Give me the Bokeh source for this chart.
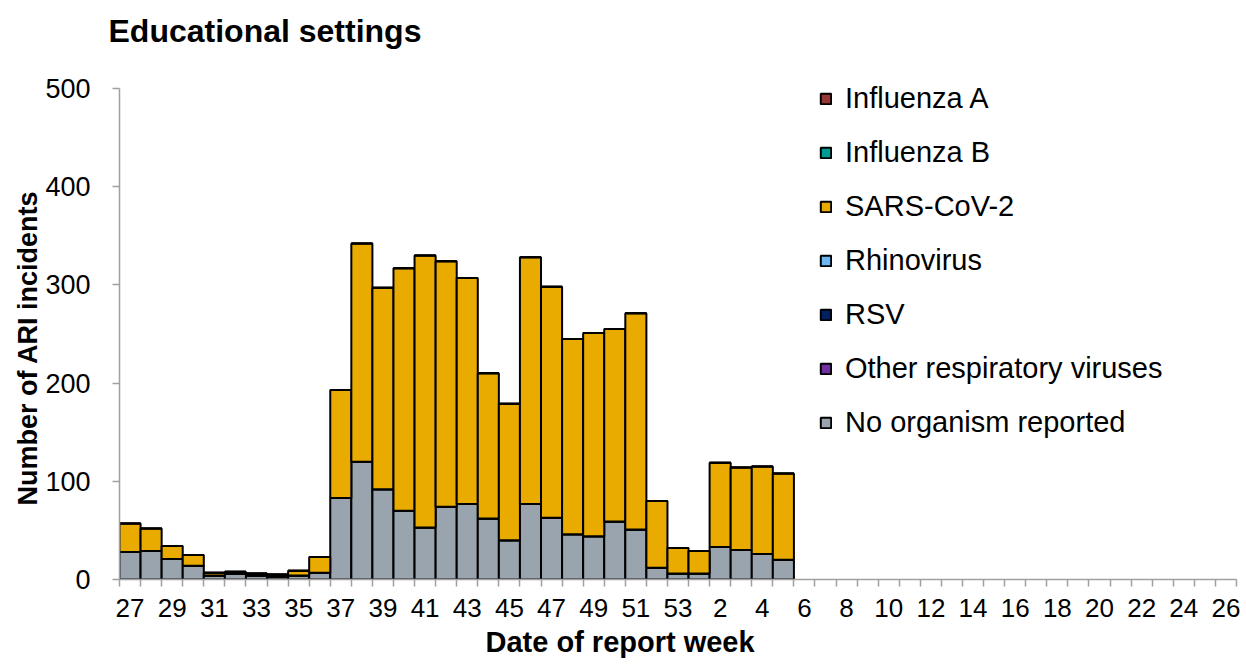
from bokeh.plotting import figure
from bokeh.models import Range1d, FixedTicker, Legend, LegendItem, Title, ColumnDataSource
from bokeh.embed import file_html
from bokeh.resources import INLINE

# All report weeks on the axis (week 27 of one year to week 26 of the next)
week_labels = ["27", "28", "29", "30", "31", "32", "33", "34", "35", "36", "37", "38", "39", "40",
               "41", "42", "43", "44", "45", "46", "47", "48", "49", "50", "51", "52", "53",
               "1", "2", "3", "4", "5", "6", "7", "8", "9", "10", "11", "12", "13", "14", "15",
               "16", "17", "18", "19", "20", "21", "22", "23", "24", "25", "26"]

# Weeks with reported incidents
data_weeks = ["27", "28", "29", "30", "31", "32", "33", "34", "35", "36", "37", "38", "39", "40",
              "41", "42", "43", "44", "45", "46", "47", "48", "49", "50", "51", "52", "53",
              "1", "2", "3", "4", "5"]

no_organism = [28, 29, 21, 14, 4, 6, 4, 3, 4, 7, 83, 120, 92, 70, 53, 74, 77, 62, 40, 77,
               63, 46, 44, 59, 51, 12, 6, 6, 33, 30, 26, 20]
other_resp = [0] * 32
rsv = [0] * 32
rhinovirus = [0] * 32
sars_cov_2 = [29, 23, 13, 11, 3, 2, 2, 2, 5, 16, 110, 222, 205, 247, 277, 250, 230, 148, 139, 251,
              235, 199, 207, 196, 220, 68, 26, 23, 86, 84, 89, 88]
influenza_b = [0] * 32
influenza_a = [0] * 32

y_ticks = [0, 100, 200, 300, 400, 500]

series_keys = ["no_organism", "other_resp", "rsv", "rhinovirus", "sars_cov_2", "influenza_b", "influenza_a"]
series_names = ["No organism reported", "Other respiratory viruses", "RSV", "Rhinovirus",
                "SARS-CoV-2", "Influenza B", "Influenza A"]
series_colors = ["#99A4AE", "#7030A0", "#002060", "#6CB6F2", "#E9AB00", "#009A94", "#953735"]

FONT = "Liberation Sans"

x_pos = [week_labels.index(w) + 0.5 for w in data_weeks]
source = ColumnDataSource(dict(x=x_pos, no_organism=no_organism, other_resp=other_resp, rsv=rsv,
                               rhinovirus=rhinovirus, sars_cov_2=sars_cov_2,
                               influenza_b=influenza_b, influenza_a=influenza_a))

p = figure(width=1240, height=666, output_backend="svg", toolbar_location=None,
           x_range=Range1d(0, len(week_labels)), y_range=Range1d(0, 530.5),
           min_border_left=119, min_border_right=4, min_border_top=58, min_border_bottom=87)
p.outline_line_color = None
p.grid.grid_line_color = None
p.background_fill_color = "white"

p.title.text = "Educational settings"
p.title.align = "left"
p.title.offset = -11
p.title.standoff = 19
p.title.text_font = FONT
p.title.text_font_size = "32px"
p.title.text_font_style = "bold"
p.title.text_color = "black"

renderers = p.vbar_stack(series_keys, x="x", width=1.0, source=source,
                         fill_color=series_colors, line_color="black", line_width=2)

# x axis: labels at every other week, ticks at the boundaries between weeks
even_idx = list(range(0, len(week_labels), 2))
p.xaxis.ticker = FixedTicker(ticks=[i + 0.5 for i in even_idx],
                             minor_ticks=list(range(0, len(week_labels) + 1)))
p.xaxis.major_label_overrides = {i + 0.5: week_labels[i] for i in even_idx}
p.xaxis.major_tick_line_color = None
p.xaxis.minor_tick_out = 7
p.xaxis.minor_tick_in = 0
p.xaxis.minor_tick_line_color = "#A0A0A0"
p.xaxis.minor_tick_line_width = 1.5
p.xaxis.axis_line_color = "#A0A0A0"
p.xaxis.axis_line_width = 1.5
p.xaxis.major_label_text_font = FONT
p.xaxis.major_label_text_font_size = "26px"
p.xaxis.major_label_text_color = "black"
p.xaxis.major_label_standoff = 12

p.yaxis.ticker = FixedTicker(ticks=y_ticks)
p.yaxis.bounds = (0, 500)
p.yaxis.minor_tick_line_color = None
p.yaxis.major_tick_out = 7
p.yaxis.major_tick_in = 0
p.yaxis.major_tick_line_color = "#A0A0A0"
p.yaxis.major_tick_line_width = 1.5
p.yaxis.axis_line_color = "#A0A0A0"
p.yaxis.axis_line_width = 1.5
p.yaxis.major_label_text_font = FONT
p.yaxis.major_label_text_font_size = "27px"
p.yaxis.major_label_text_color = "black"
p.yaxis.major_label_standoff = 22

p.add_layout(Title(text="Number of ARI incidents", align="left", offset=74, standoff=0,
                   text_font=FONT, text_font_size="27px", text_font_style="bold",
                   text_color="black"), "left")

p.add_layout(Title(text="Date of report week", align="left", offset=366, standoff=9,
                   text_font=FONT, text_font_size="29px", text_font_style="bold",
                   text_color="black"), "below")

items = [LegendItem(label=series_names[i], renderers=[renderers[i]]) for i in range(6, -1, -1)]
legend = Legend(items=items, location=(700, 140), orientation="vertical",
                glyph_width=13, glyph_height=13, label_standoff=13,
                label_text_font=FONT, label_text_font_size="29px", label_text_color="black",
                label_height=30, spacing=21, padding=0, margin=0,
                border_line_color=None, background_fill_alpha=0)
p.add_layout(legend)

open("out.html", "w").write(file_html(p, INLINE))
